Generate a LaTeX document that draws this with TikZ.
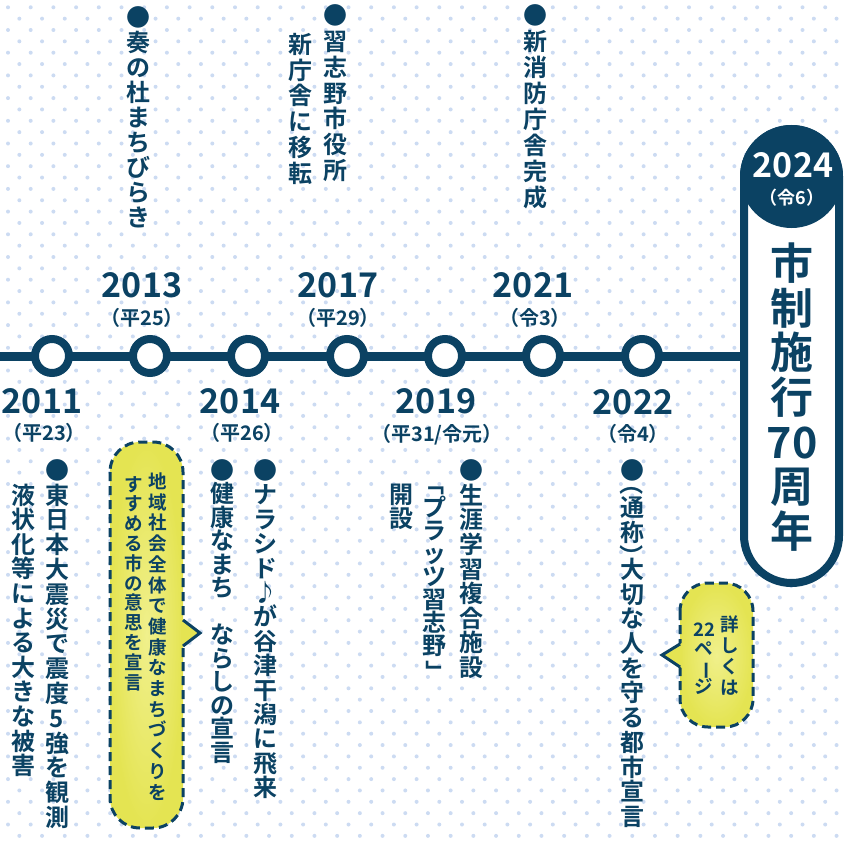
\documentclass[tikz,border=0pt]{standalone}
\usepackage{fontspec}
\usepackage{graphicx}
\setmainfont{Noto Sans CJK JP}[BoldFont={Noto Sans CJK JP Bold}]
\usetikzlibrary{positioning}

\definecolor{navy}{RGB}{11,66,99}
\definecolor{dotblue}{RGB}{204,219,242}
\definecolor{bubble}{RGB}{228,228,82}
\definecolor{bubblelight}{RGB}{240,240,140}

% vertical (tate) text: one cell per token
\makeatletter
\newdimen\tate@A \newdimen\tate@B \newdimen\tate@r \newdimen\tatepitch
\newbox\tate@box
\newcommand\tate[2][24pt]{%
  \tatepitch=#1\relax
  \vbox{\offinterlineskip
    \@tfor\tate@c:=#2\do{\tate@cell}}}
\newcommand\tate@cell{%
  \global\tate@A=\dimexpr.88em+(\tatepitch-1em)/2\relax
  \global\tate@B=\dimexpr\tatepitch-\tate@A\relax
  \global\tate@r=\z@
  \setbox\tate@box\hbox{\tate@c}%
  \hbox to 1.3em{\vrule width\z@ height\tate@A depth\tate@B\hss
    \smash{\raise\tate@r\box\tate@box}\hss}}
\newcommand\topen[1]{\global\tate@A=\dimexpr\tatepitch/4\relax
  \global\tate@B=\tate@A \global\tate@r=-.16em\rotatebox[origin=c]{-90}{#1}}
\newcommand\tclose[1]{\global\tate@A=\dimexpr\tatepitch/4\relax
  \global\tate@B=\tate@A \global\tate@r=-.6em\rotatebox[origin=c]{-90}{#1}}
\newcommand\tturn[1]{\rotatebox[origin=c]{-90}{#1}}
\makeatother

\begin{document}
\begin{tikzpicture}[x=1pt, y=-1pt,
		year/.style={font=\bfseries\fontsize{34}{34}\selectfont, text=navy, inner sep=0},
		era/.style={font=\bfseries\fontsize{20}{20}\selectfont, text=navy, inner sep=0},
		tatetext/.style={font=\bfseries\fontsize{24}{24}\selectfont, text=navy, inner sep=0, anchor=north},
		bubbletext/.style={font=\bfseries\fontsize{18.5}{18.5}\selectfont, text=navy, inner sep=0, anchor=north},
		ring/.style={circle, draw=navy, line width=8pt, fill=white, minimum size=34pt, inner sep=0},
		capsule/.style={draw=navy, line width=8pt, fill=white, rounded corners=47.5pt, minimum width=95pt, minimum height=454pt, inner sep=0},
		balloon/.style={draw=navy, line width=3pt, dash pattern=on 9pt off 5pt, rounded corners=30pt, inner color=bubblelight, outer color=bubble},
		]
		\useasboundingbox (0,0) rectangle (843,843);
		
		%Dots
		\foreach \r in {0,...,74}
		\foreach \c in {0,...,37}
		\fill[dotblue] ({8+22.7*\c+11.35*mod(\r,2)},{7.3+11.35*\r}) circle (2pt);
		
		%Capsule
		\node[capsule] (cap) at (791.5,356) {};
		\fill[navy] (791.5,176.5) circle (51.5pt);
		\node[font=\bfseries\fontsize{34}{34}\selectfont, text=white, inner sep=0] (y2024) at (793,165) {2024};
		\node[font=\bfseries\fontsize{18}{18}\selectfont, text=white, inner sep=0] (e2024) at (792,198) {（令6）};
		\node[font=\bfseries\fontsize{43}{43}\selectfont, text=navy, inner sep=0, anchor=north] (title) at (792,240.5) {\tate[44.7pt]{市制施行{70}周年}};
		
		%Line and rings
		\coordinate (start) at (0,356);
		\draw[navy, line width=9pt] (start) -- (cap.west);
		\foreach \x [count=\i] in {52,150,248,347,445,543,642}
		\node[ring] (r\i) at (\x,356) {};
		
		%Years
		\node[year] (y2013) at (142,285) {2013};
		\node[era]  (e2013) at (142,318) {（平25）};
		\node[year] (y2017) at (338,285) {2017};
		\node[era]  (e2017) at (338,318) {（平29）};
		\node[year] (y2021) at (533,285) {2021};
		\node[era]  (e2021) at (535,318) {（令3）};
		\node[year] (y2011) at (42,401) {2011};
		\node[era]  (e2011) at (44,433) {（平23）};
		\node[year] (y2014) at (240,401) {2014};
		\node[era]  (e2014) at (242,433) {（平26）};
		\node[year] (y2019) at (436,401) {2019};
		\node[era]  (e2019) at (437,435) {（平31/令元）};
		\node[year] (y2022) at (633,402) {2022};
		\node[era]  (e2022) at (633,434) {（令4）};
		
		%Events above
		\node[tatetext] (t2013)  at (138,4.5) {\tate[25pt]{●奏の杜まちびらき}};
		\node[tatetext] (t2017a) at (335,2.5) {\tate[25.8pt]{●習志野市役所}};
		\node[tatetext] (t2017b) at (300,31)  {\tate[25.8pt]{新庁舎に移転}};
		\node[tatetext] (t2021)  at (535,2)   {\tate[26pt]{●新消防庁舎完成}};
		
		%Events below
		\node[tatetext] (t2011a) at (57,457.6) {\tate[24.8pt]{●東日本大震災で震度5強を観測}};
		\node[tatetext] (t2011b) at (23,482.4) {\tate[24.6pt]{液状化等による大きな被害}};
		\node[tatetext] (t2014a) at (222,458)  {\tate[23.5pt]{●健康なまち{\relax}ならしの宣言}};
		\node[tatetext] (t2014b) at (265,458)  {\tate[24.4pt]{●ナラシド♪が谷津干潟に飛来}};
		\node[tatetext] (t2019a) at (471,458)  {\tate[24.6pt]{●生涯学習複合施設}};
		\node[tatetext] (t2019b) at (434,473)  {\tate[23pt]{{\tturn「}プラッツ習志野{\tturn」}}};
		\node[tatetext] (t2019c) at (401,482)  {\tate[24pt]{開設}};
		\node[tatetext] (t2022)  at (632,458)  {\tate[24.7pt]{●{\topen（}通称{\tclose）}大切な人を守る都市宣言}};
		
		%Bubbles
		\path[balloon] (110,442) rectangle (183,828);
		\fill[bubble] (181,619) -- (200,633) -- (181,647) -- cycle;
		\draw[navy, line width=3pt] (183,620) -- (200,633) -- (183,646);
		\node[bubbletext] (note1a) at (158,471) {\tate[20.7pt]{地域社会全体で健康なまちづくりを}};
		\node[bubbletext] (note1b) at (134,474) {\tate[19.8pt]{すすめる市の意思を宣言}};
		
		\path[balloon, rounded corners=28pt] (680,583) rectangle (753,727);
		\fill[bubble] (682,643) -- (662,655) -- (682,668) -- cycle;
		\draw[navy, line width=3pt] (680,644) -- (662,655) -- (680,667);
		\node[bubbletext] (note2a) at (730,614) {\tate[21pt]{詳しくは}};
		\node[bubbletext] (note2b) at (704,620) {\tate[19pt]{{22}ペ{\tturn ー}ジ}};
		\end{tikzpicture}
\end{document}
